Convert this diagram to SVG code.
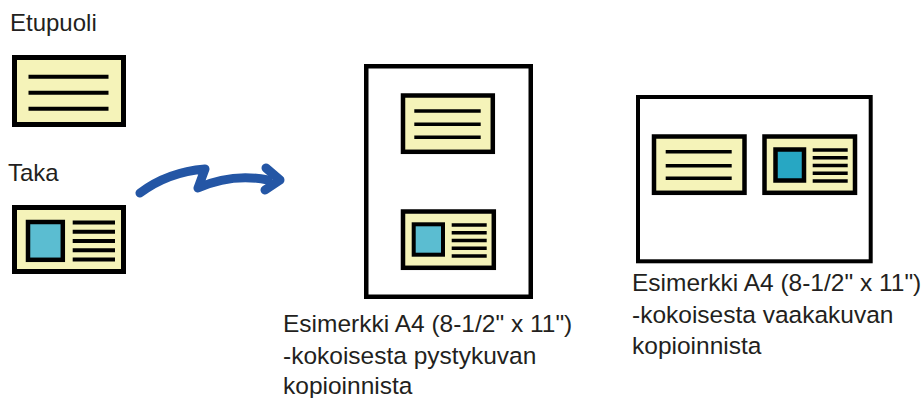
<svg xmlns="http://www.w3.org/2000/svg" width="922" height="398" viewBox="0 0 922 398">
<style>
.card{fill:#f5f3b9;stroke:#000;stroke-width:4.5}
.page{fill:#fff;stroke:#000;stroke-width:4.5}
.ln{stroke:#000;stroke-width:3.5}
.photo{fill:#5bbdd1;stroke:#000;stroke-width:4.5}
.photo2{fill:#27a7c3;stroke:#000;stroke-width:4.5}
.t{font-family:"Liberation Sans",Arial,sans-serif;font-size:24.5px;fill:#231f20}
.arr{fill:none;stroke:#2456a5;stroke-width:9;stroke-linecap:round;stroke-linejoin:round}
</style>
<rect width="922" height="398" fill="#fff"/>
<g id="front">
<text class="t" x="10" y="31" style="font-size:24px">Etupuoli</text>
<rect class="card" x="14.5" y="57.5" width="109" height="67" style="stroke-width:5"/>
<g class="ln" style="stroke-width:4"><line x1="28.5" y1="76.7" x2="108.5" y2="76.7"/><line x1="28.5" y1="92.7" x2="108.5" y2="92.7"/><line x1="28.5" y1="108.7" x2="108.5" y2="108.7"/></g>
</g>
<g id="back">
<text class="t" x="8" y="181" style="font-size:24px">Taka</text>
<rect class="card" x="14.5" y="207.5" width="109" height="64" style="stroke-width:5"/>
<rect class="photo" x="28" y="222" width="34.8" height="37.8"/>
<g class="ln" style="stroke-width:4"><line x1="72.7" y1="222.5" x2="115" y2="222.5"/><line x1="72.7" y1="231.7" x2="115" y2="231.7"/><line x1="72.7" y1="241" x2="115" y2="241"/><line x1="72.7" y1="250.3" x2="115" y2="250.3"/><line x1="72.7" y1="259.5" x2="115" y2="259.5"/></g>
</g>
<g id="connectors">
<path class="arr" d="M140,193 Q168,172 205,169 L198,188 Q232,173 268,180"/>
<polyline class="arr" points="266,168 280,180 265,190"/>
</g>
<g id="portrait">
<rect class="page" x="366.25" y="66.25" width="164.5" height="230.5"/>
<rect class="card" x="403" y="95.5" width="89.8" height="56.3"/>
<g class="ln"><line x1="414.3" y1="111" x2="480.7" y2="111"/><line x1="414.3" y1="124.3" x2="480.7" y2="124.3"/><line x1="414.3" y1="137.3" x2="480.7" y2="137.3"/></g>
<rect class="card" x="403" y="211.5" width="90.8" height="56.3"/>
<rect class="photo" x="413.7" y="224.3" width="29.3" height="30.4" style="stroke-width:4"/>
<g class="ln"><line x1="451.7" y1="225" x2="486.7" y2="225"/><line x1="451.7" y1="232.7" x2="486.7" y2="232.7"/><line x1="451.7" y1="240.5" x2="486.7" y2="240.5"/><line x1="451.7" y1="248.3" x2="486.7" y2="248.3"/><line x1="451.7" y1="256" x2="486.7" y2="256"/></g>
<text class="t" x="283" y="332">Esimerkki A4 (8-1/2" x 11")</text>
<text class="t" x="283" y="363.5">-kokoisesta pystykuvan</text>
<text class="t" x="283" y="394">kopioinnista</text>
</g>
<g id="landscape">
<rect class="page" x="638" y="97" width="232.7" height="164.3" style="stroke-width:4"/>
<rect class="card" x="654" y="136.5" width="90.5" height="56.3"/>
<g class="ln"><line x1="665.7" y1="151.7" x2="731.7" y2="151.7"/><line x1="665.7" y1="165.7" x2="731.7" y2="165.7"/><line x1="665.7" y1="178.3" x2="731.7" y2="178.3"/></g>
<rect class="card" x="764.5" y="136.5" width="90.5" height="56.3"/>
<rect class="photo2" x="775.5" y="149.5" width="28.5" height="31"/>
<g class="ln"><line x1="812.7" y1="150" x2="847.7" y2="150"/><line x1="812.7" y1="157.7" x2="847.7" y2="157.7"/><line x1="812.7" y1="165.5" x2="847.7" y2="165.5"/><line x1="812.7" y1="173.3" x2="847.7" y2="173.3"/><line x1="812.7" y1="181" x2="847.7" y2="181"/></g>
<text class="t" x="632" y="291">Esimerkki A4 (8-1/2" x 11")</text>
<text class="t" x="632" y="322.5">-kokoisesta vaakakuvan</text>
<text class="t" x="632" y="354">kopioinnista</text>
</g>
</svg>
